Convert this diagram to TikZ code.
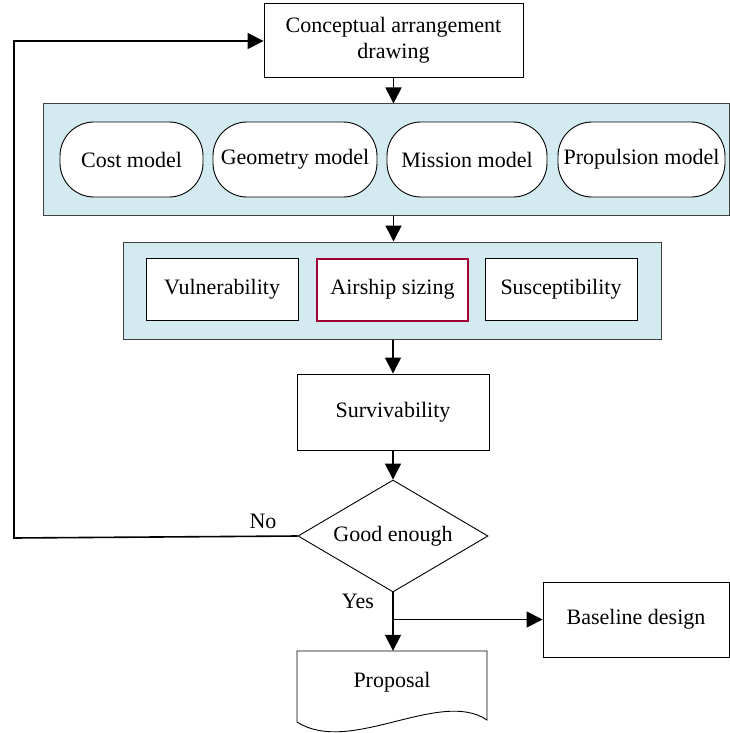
\documentclass[tikz,border=0pt]{standalone}
\usepackage{fontspec}
\setmainfont{Liberation Serif}
\usetikzlibrary{shapes.geometric,arrows.meta,calc}
\definecolor{bandfill}{RGB}{210,234,240}
\definecolor{sizered}{RGB}{160,0,50}
\begin{document}
\begin{tikzpicture}[x=1pt,y=-1pt,
  txt/.style={inner sep=0pt, align=center, font=\fontsize{22}{26}\selectfont},
  box/.style={txt, draw, line width=0.9pt, fill=white},
  band/.style={draw=black!75, fill=bandfill, line width=1pt, inner sep=0pt},
  pill/.style={box, rounded corners=34pt},
  conn/.style={line width=1.6pt, -{Triangle[length=16pt,width=16pt]}},
  sz/.style 2 args={minimum width=#1pt, minimum height=#2pt}
]
\useasboundingbox (0,0) rectangle (730,733);
% bands
\node[band, sz={686}{111}] (band1) at (386,159.5) {};
\node[band, sz={538}{97}] (band2) at (392,290.5) {};
% boxes
\node[box, sz={259}{74}] (concept) at (393.5,40) {Conceptual arrangement\\drawing};
\node[pill, sz={143}{75}] (cost) at (131.5,159.5) {Cost model};
\node[pill, sz={164}{75}] (geom) at (295,159.5) {Geometry model};
\node[pill, sz={160}{75}] (mission) at (467,159.5) {Mission model};
\node[pill, sz={167}{75}] (propm) at (641.5,159.5) {Propulsion model};
\node[box, sz={152}{62}] (vul) at (222,289.5) {Vulnerability};
\node[box, draw=sizered, line width=2pt, sz={151}{62}] (size) at (392.5,289.5) {Airship sizing};
\node[box, sz={152}{62}] (susc) at (561,289.5) {Susceptibility};
\node[box, sz={192}{76}] (surv) at (393,412) {Survivability};
\node[box, shape=diamond, aspect=1.7, sz={190}{112}] (good) at (393,536) {Good enough};
\node[box, sz={186}{75}] (base) at (636,619.5) {Baseline design};
\draw[line width=0.9pt] (297,651) -- (487,651) -- (487,720)
  .. controls (440,688) and (350,756) .. (297,722) -- cycle;
\node[txt, sz={190}{62}] (prop) at (392,682) {Proposal};
% labels
\node[txt] (no) at (263,521) {No};
\node[txt] (yes) at (358,601) {Yes};
% connectors
\draw[conn] (concept.south) -- (concept.south |- band1.north);
\draw[conn] (concept.south |- band1.south) -- (concept.south |- band2.north);
\draw[conn] (surv.north |- band2.south) -- (surv.north);
\draw[conn] (surv.south) -- (good.north);
\draw[conn] (good.south) -- (good.south |- prop.north);
\draw[conn] (good.south |- base.west) -- (base.west);
\coordinate (lb) at (14,538);
\coordinate (lt) at (14,41);
\draw[conn] (good.west) -- (lb) -- (lt) -- (lt -| concept.west);
\end{tikzpicture}
\end{document}
